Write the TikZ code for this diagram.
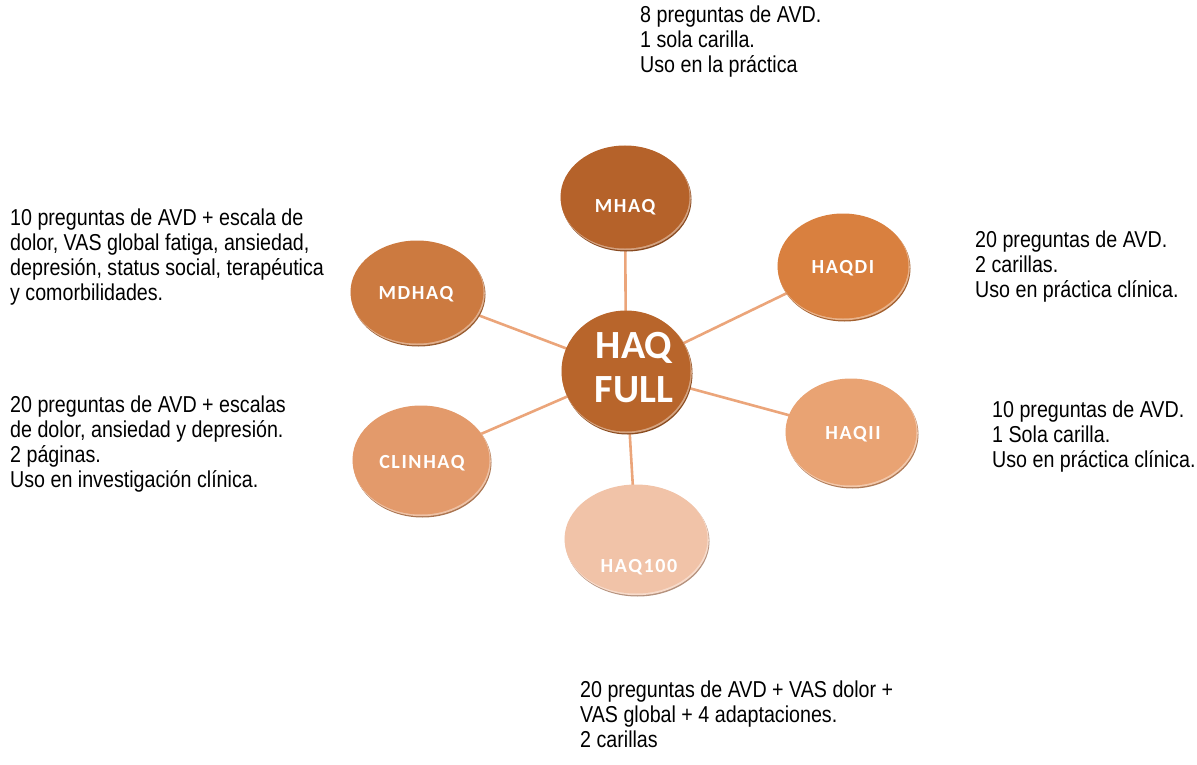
\documentclass[tikz,border=0pt]{standalone}
\usepackage{fontspec}
\newfontfamily\bodyfont[FakeStretch=0.855]{Liberation Sans}
\newfontfamily\labfont[LetterSpace=8]{Carlito}
\newfontfamily\bigfont{Carlito}
\usetikzlibrary{calc}
\definecolor{cMHAQ}{HTML}{B5622A}
\definecolor{cFULL}{HTML}{B8652B}
\definecolor{cMDHAQ}{HTML}{CC7A40}
\definecolor{cHAQDI}{HTML}{D9803F}
\definecolor{cHAQII}{HTML}{E9A373}
\definecolor{cCLIN}{HTML}{E39A6B}
\definecolor{cHAQC}{HTML}{F1C3A8}
\definecolor{cline}{HTML}{EBA57A}
\tikzset{
  desc/.style={anchor=north west, inner sep=0pt, align=left, font=\bodyfont\fontsize{23}{25}\selectfont, text=black},
  lab/.style={text=white, font=\labfont\bfseries\fontsize{20}{22}\selectfont},
  conn/.style={draw=cline, line width=2.6pt},
}
\begin{document}
\begin{tikzpicture}[x=1pt,y=-1pt]
\useasboundingbox (0,0) rectangle (1197,765);
% centres
\coordinate (cF) at (626,371);
\coordinate (cM) at (625,197);
\coordinate (cD) at (843,266);
\coordinate (cI) at (851,432);
\coordinate (cC) at (636,539);
\coordinate (cL) at (421,460);
\coordinate (cMD) at (417,292);
% connectors
\foreach \t in {cM,cD,cI,cC,cL,cMD} \draw[conn] (cF) -- (\t);
% discs: shadow rim, body
\def\disc#1#2#3#4{%
  \fill[#2!75!black] ($(#1)+(1.5,2.5)$) ellipse [x radius=#3, y radius=#4];
  \fill[#2!60!white] ($(#1)+(0.8,1.2)$) ellipse [x radius=#3, y radius=#4];
  \fill[#2] (#1) ellipse [x radius=#3-0.5, y radius=#4-0.5];
}
\disc{cM}{cMHAQ}{65}{52}
\disc{cD}{cHAQDI}{66}{53}
\disc{cI}{cHAQII}{66}{54}
\disc{cC}{cHAQC}{72}{55}
\disc{cL}{cCLIN}{69}{55}
\disc{cMD}{cMDHAQ}{67}{52}
\disc{cF}{cFULL}{65}{61}
% labels
\node[lab] (MHAQ) at (625,207) {MHAQ};
\node[lab] (HAQDI) at (843,268) {HAQDI};
\node[lab] (HAQII) at (853,434) {HAQII};
\node[lab] (HAQ100) at (639,567) {HAQ100};
\node[lab] (CLINHAQ) at (422,463) {CLINHAQ};
\node[lab] (MDHAQ) at (416,294) {MDHAQ};
\node[lab, font=\bigfont\bfseries\fontsize{40}{44}\selectfont, align=center] (FULL) at (634,368) {HAQ\\FULL};
% descriptions
\node[desc] (tM) at (640,6) {8 preguntas de AVD.\\1 sola carilla.\\Uso en la práctica};
\node[desc] (tMD) at (10,209) {10 preguntas de AVD + escala de\\dolor, VAS global fatiga, ansiedad,\\depresión, status social, terapéutica\\y comorbilidades.};
\node[desc] (tD) at (975,231) {20 preguntas de AVD.\\2 carillas.\\Uso en práctica clínica.};
\node[desc] (tL) at (10,396) {20 preguntas de AVD + escalas\\de dolor, ansiedad y depresión.\\2 páginas.\\Uso en investigación clínica.};
\node[desc] (tI) at (992,401) {10 preguntas de AVD.\\1 Sola carilla.\\Uso en práctica clínica.};
\node[desc] (tC) at (580,681) {20 preguntas de AVD + VAS dolor +\\VAS global + 4 adaptaciones.\\2 carillas};
\end{tikzpicture}
\end{document}
